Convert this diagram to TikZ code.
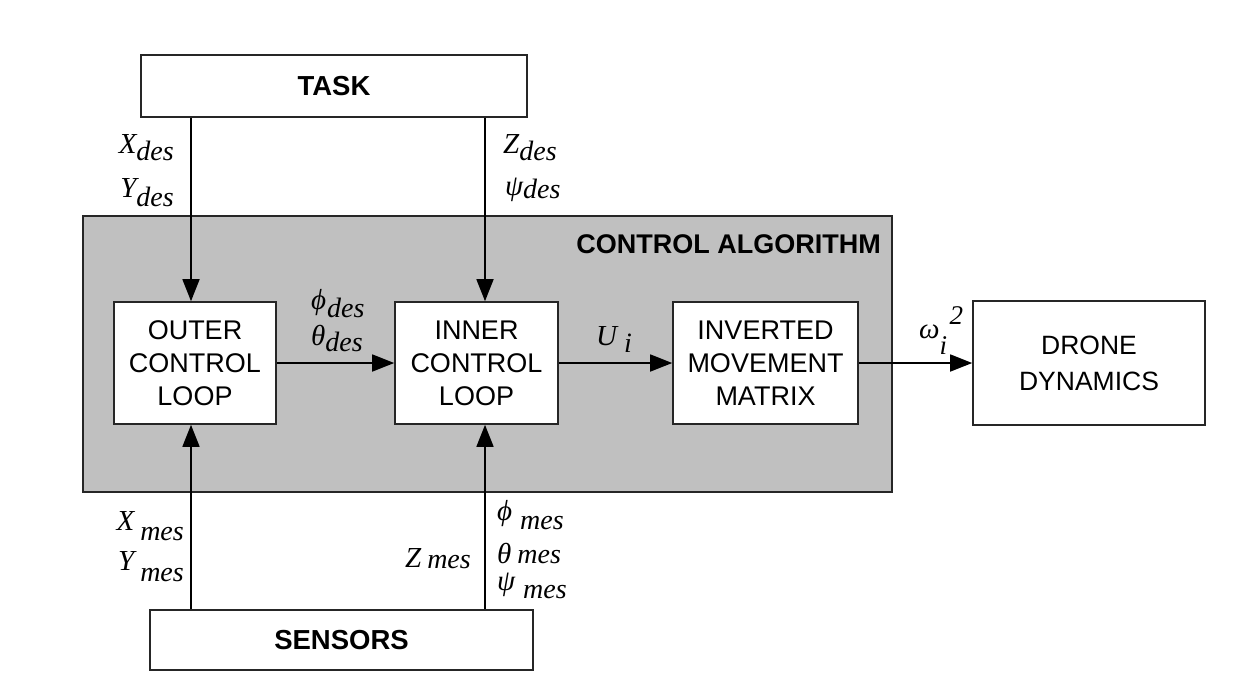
\documentclass[tikz,border=0pt]{standalone}
\usepackage{fontspec}
\setmainfont{Liberation Sans}
\newfontfamily\serif{Liberation Serif}
\usetikzlibrary{arrows.meta}
\definecolor{grayfill}{RGB}{192,192,192}
\newcommand\ml[4]{{\serif\itshape\fontsize{29}{29}\selectfont #1\hspace{#4}\raisebox{-#3}{\fontsize{28}{28}\selectfont #2}}}
\begin{document}
\begin{tikzpicture}[x=1pt,y=-1pt,
  box/.style={draw=black!85,line width=1.6pt,fill=white,align=center,inner sep=0pt,font=\fontsize{27}{33}\selectfont},
  bbox/.style={box,font=\bfseries\fontsize{27.5}{30}\selectfont},
  arr/.style={line width=1.6pt,-{Triangle[length=22pt,width=17pt]}},
  lab/.style={inner sep=0pt}]
\useasboundingbox (0,0) rectangle (1248,697);
\node[draw=black!85,line width=1.6pt,fill=grayfill,minimum width=809pt,minimum height=276pt,inner sep=0pt] (ca) at (487.5,354) {};
\node[lab,anchor=base east,font=\bfseries\fontsize{27}{27}\selectfont] (catitle) at (881,253) {CONTROL ALGORITHM};
\node[bbox,minimum width=386pt,minimum height=62pt] (task) at (334,86) {TASK};
\node[bbox,minimum width=383pt,minimum height=60pt] (sensors) at (341.5,640) {SENSORS};
\node[box,minimum width=162pt,minimum height=122pt] (outer) at (195,363) {OUTER\\CONTROL\\LOOP};
\node[box,minimum width=163pt,minimum height=122pt] (inner) at (476.5,363) {INNER\\CONTROL\\LOOP};
\node[box,minimum width=185pt,minimum height=122pt] (inv) at (765.5,363) {INVERTED\\MOVEMENT\\MATRIX};
\node[box,minimum width=232pt,minimum height=124pt,font=\fontsize{26.5}{36}\selectfont] (drone) at (1089,363) {DRONE\\DYNAMICS};
\coordinate (lx) at (191,0);
\coordinate (rx) at (485,0);
\draw[arr] (task.south -| lx) -- (outer.north -| lx);
\draw[arr] (task.south -| rx) -- (inner.north -| rx);
\draw[arr] (sensors.north -| lx) -- (outer.south -| lx);
\draw[arr] (sensors.north -| rx) -- (inner.south -| rx);
\draw[arr] (outer.east) -- (inner.west);
\draw[arr] (inner.east) -- (inv.west);
\draw[arr] (inv.east) -- (drone.west);
% labels
\node[lab,anchor=base east] (xd) at (174,153) {\ml{X}{des}{7pt}{0pt}};
\node[lab,anchor=base east] (yd) at (174,197) {\ml{Y}{des}{9pt}{0pt}};
\node[lab,anchor=base west] (zd) at (503,153) {\ml{Z}{des}{7pt}{0pt}};
\node[lab,anchor=base west] (psid) at (505,195) {\ml{ψ}{des}{3pt}{0pt}};
\node[lab,anchor=base west] (phid) at (311,309) {\ml{ϕ}{des}{8pt}{1pt}};
\node[lab,anchor=base west] (thd) at (311,345) {\ml{θ}{des}{6pt}{0pt}};
\node[lab,anchor=base west] (ui) at (596,345) {\ml{U}{i}{7pt}{7pt}};
\node[lab,anchor=base west] (om) at (919,338) {{\serif\itshape\fontsize{29}{29}\selectfont ω\rlap{\raisebox{-16pt}{\fontsize{27}{27}\selectfont i}}\hspace{10pt}\raisebox{14pt}{\fontsize{27}{27}\selectfont 2}}};
\node[lab,anchor=base east] (xm) at (184,530) {\ml{X}{mes}{10pt}{6pt}};
\node[lab,anchor=base east] (ym) at (184,570) {\ml{Y}{mes}{11pt}{6pt}};
\node[lab,anchor=base east] (zm) at (471,567) {\ml{Z}{mes}{1pt}{6pt}};
\node[lab,anchor=base west] (phim) at (497,520) {\ml{ϕ}{mes}{9pt}{8pt}};
\node[lab,anchor=base west] (thm) at (497,563) {\ml{θ}{mes}{0pt}{6pt}};
\node[lab,anchor=base west] (psim) at (497,590) {\ml{ψ}{mes}{8pt}{8pt}};
\end{tikzpicture}
\end{document}
